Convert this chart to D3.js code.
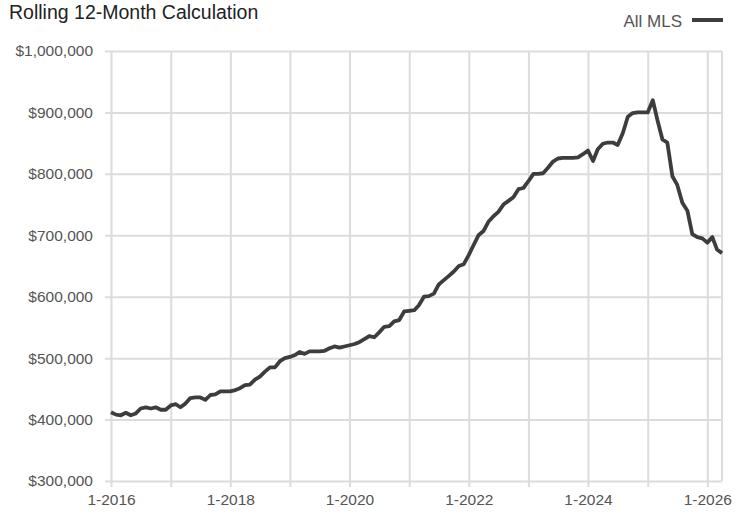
<!DOCTYPE html>
<html>
<head>
<meta charset="utf-8">
<script src="https://cdn.jsdelivr.net/npm/d3@7"></script>
<style>
  body { margin: 0; background: #fff; }
  svg text { font-family: "Liberation Sans", Arial, sans-serif; }
</style>
</head>
<body>
<svg id="chart" width="743" height="515"></svg>
<script>
// monthly values, 1-2016 .. 4-2026 (rolling 12-month median price)
const startMonth = '2016-01'
const values = [
  412000, 408000, 407000, 411000, 407000, 410000, 418000, 420000, 418000, 420000, 416000, 416000,
  423000, 425000, 420000, 426000, 435000, 436000, 436000, 432000, 440000, 441000, 446000, 446000,
  446000, 448000, 451000, 456000, 457000, 465000, 470000, 478000, 485000, 485000, 495000, 500000,
  502000, 505000, 510000, 507000, 511000, 511000, 511000, 512000, 516000, 519000, 517000, 519000,
  521000, 523000, 526000, 531000, 536000, 534000, 542000, 551000, 552000, 560000, 562000, 576000,
  577000, 578000, 586000, 600000, 601000, 605000, 620000, 627000, 634000, 641000, 650000, 653000,
  668000, 685000, 700000, 707000, 722000, 731000, 738000, 750000, 756000, 762000, 775000, 777000,
  788000, 800000, 800000, 801000, 810000, 820000, 825000, 826000, 826000, 826000, 827000, 832000,
  838000, 821000, 840000, 849000, 851000, 851000, 847000, 866000, 893000, 899000, 900000, 900000,
  900000, 920000, 888000, 856000, 851000, 796000, 782000, 753000, 740000, 702000, 697000, 695000,
  688000, 697000, 677000, 671000
]
const yTicks = [300000, 400000, 500000, 600000, 700000, 800000, 900000, 1000000]
const xLabelYears = [2016, 2018, 2020, 2022, 2024, 2026]
const seriesName = 'All MLS'
const title = 'Rolling 12-Month Calculation'

const parse = d3.timeParse('%Y-%m')
const t0 = parse(startMonth)
const data = values.map((v, i) => ({ date: d3.timeMonth.offset(t0, i), value: v }))

const margin = {top: 51, right: 21, bottom: 34, left: 111}
const svg = d3.select('#chart')
const width = +svg.attr('width') - margin.left - margin.right
const height = +svg.attr('height') - margin.top - margin.bottom

const x = d3.scaleTime()
    .domain(d3.extent(data, d => d.date))
    .range([0, width])

const y = d3.scaleLinear()
    .domain([300000, 1000000])
    .range([height, 0])

const g = svg.append('g')
    .attr('transform', 'translate(' + margin.left + ',' + margin.top + ')')

const gridColour = '#dcdcdc'
const textColour = '#555'

// horizontal grid + left ticks
const yAxis = g.append('g')
    .attr('class', 'y axis')
    .call(d3.axisLeft(y)
      .tickValues(yTicks)
      .tickSize(-width - 6)
      .tickPadding(12)
      .tickFormat(d => '$' + d3.format(',')(d)))
    .attr('transform', 'translate(-6,0)')

yAxis.select('.domain').remove()
yAxis.selectAll('line')
    .attr('x1', 0)
    .attr('x2', width + 6)
    .style('stroke', gridColour)
    .style('stroke-width', 2)
yAxis.selectAll('text')
    .style('fill', textColour)
    .style('font-size', '15.5px')

// vertical grid every year, labels every other year
const yearTicks = d3.timeYear.range(d3.timeYear.floor(x.domain()[0]), x.domain()[1])
const xAxis = g.append('g')
    .attr('class', 'x axis')
    .call(d3.axisBottom(x)
      .tickValues(yearTicks)
      .tickSize(-height)
      .tickPadding(13)
      .tickFormat(d => xLabelYears.includes(d.getFullYear()) ? '1-' + d.getFullYear() : ''))
    .attr('transform', 'translate(0,' + height + ')')

xAxis.select('.domain').remove()
xAxis.selectAll('line')
    .attr('y1', 6)
    .style('stroke', gridColour)
    .style('stroke-width', 2)
xAxis.selectAll('text')
    .style('fill', textColour)
    .style('font-size', '15.5px')

// right edge line
g.append('line')
    .attr('x1', width).attr('x2', width)
    .attr('y1', 0).attr('y2', height)
    .style('stroke', gridColour)
    .style('stroke-width', 2)

const line = d3.line()
    .x(d => x(d.date))
    .y(d => y(d.value))

g.append('path')
    .datum(data)
    .attr('fill', 'none')
    .attr('stroke', '#3d3d3d')
    .attr('stroke-width', 3.8)
    .attr('stroke-linejoin', 'round')
    .attr('d', line)

// title + legend
svg.append('text')
    .attr('x', 9)
    .attr('y', 19)
    .style('font-size', '19.5px')
    .style('fill', '#222')
    .text(title)

svg.append('text')
    .attr('x', 682)
    .attr('y', 27)
    .attr('text-anchor', 'end')
    .style('font-size', '17px')
    .style('fill', textColour)
    .text(seriesName)

svg.append('line')
    .attr('x1', 692).attr('x2', 723)
    .attr('y1', 20).attr('y2', 20)
    .style('stroke', '#3d3d3d')
    .style('stroke-width', 4)
</script>
</body>
</html>
